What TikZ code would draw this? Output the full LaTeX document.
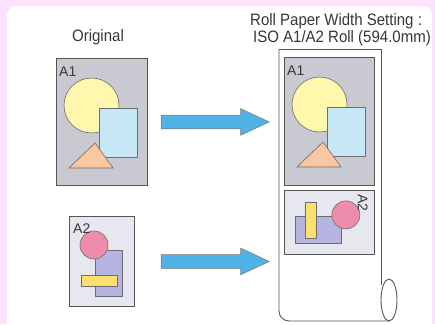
\documentclass[tikz,border=0pt]{standalone}
\usepackage{fontspec}
\setmainfont{Liberation Sans}
\usepackage{graphicx}
\usepackage{tikz}
\usetikzlibrary{shapes,arrows,positioning}

\definecolor{bgpink}{RGB}{253,226,253}
\definecolor{sheetgray}{RGB}{201,201,209}
\definecolor{sheetlight}{RGB}{231,231,239}
\definecolor{edgegray}{RGB}{85,85,85}
\definecolor{textgray}{RGB}{55,55,55}
\definecolor{paleyellow}{RGB}{255,248,172}
\definecolor{paleblue}{RGB}{198,232,246}
\definecolor{peach}{RGB}{250,200,160}
\definecolor{rosepink}{RGB}{238,140,172}
\definecolor{lilac}{RGB}{182,180,224}
\definecolor{mustard}{RGB}{250,224,110}
\definecolor{arrowblue}{RGB}{78,178,230}

\tikzstyle{caption} = [inner sep=0pt,text=textgray,font=\fontsize{15}{16}\selectfont]
\tikzstyle{tag} = [inner sep=0pt,anchor=base west,text=textgray,
  font=\fontsize{14}{14}\selectfont]
\tikzstyle{sheet} = [rectangle,draw=edgegray,line width=0.9pt,inner sep=0pt,
  anchor=north west]
\tikzstyle{art} = [draw=gray!85!black,line width=0.6pt]
\tikzstyle{rollline} = [draw=edgegray,line width=0.9pt]
\tikzstyle{bigarrow} = [single arrow,draw=gray,fill=arrowblue,line width=0.6pt,
  minimum height=108pt,inner xsep=0pt,inner ysep=6.5pt,
  single arrow head extend=6.5pt,single arrow tip angle=50]

\newcommand\stretchtext[1]{\scalebox{1}[1.1]{#1}}

% A1 sheet: circle, rectangle, triangle
\newcommand\artA[1]{
  \node[tag] (#1) at (3,18.5) {A1};
  \filldraw[art,fill=paleyellow] (35.5,47.5) circle (27.5);
  \filldraw[art,fill=paleblue] (43,50) rectangle (81,99);
  \filldraw[art,fill=peach] (39,85) -- (57,110) -- (13,110) -- cycle;
}
% A2 sheet: two bars and a disc
\newcommand\artB[1]{
  \filldraw[art,fill=lilac] (26,34) rectangle (53,80);
  \filldraw[art,fill=mustard] (12,59) rectangle (48,70);
  \filldraw[art,fill=rosepink] (25,29) circle (14);
  \node[tag] (#1) at (4,17) {A2};
}

\begin{document}
\begin{tikzpicture}[x=1pt,y=-1pt]

\useasboundingbox (0,0) rectangle (435,324);
\fill[bgpink] (0,0) rectangle (435,324);
\fill[white,rounded corners=9pt] (7,6) rectangle (432,340);

\node[caption,anchor=base] (orig) at (98,41) {\stretchtext{Original}};
\node[caption,anchor=base west] (titleA) at (250,25)
  {\stretchtext{Roll Paper Width Setting :}};
\node[caption,anchor=base west] (titleB) at (253,42)
  {\stretchtext{ISO A1/A2 Roll (594.0mm)}};

\node[sheet,fill=sheetgray,minimum width=91pt,minimum height=127pt] (a1) at (56,58) {};
\node[sheet,fill=sheetlight,minimum width=65pt,minimum height=90pt] (a2) at (69,216) {};

\begin{scope}[shift={(a1.north west)}]
  \artA{ta1}
\end{scope}
\begin{scope}[shift={(a2.north west)}]
  \artB{ta2}
\end{scope}

% the roll
\draw[rollline] (279,49) -- (381,49) -- (381,285);
\draw[rollline] (389,300) ellipse [x radius=8,y radius=21];
\draw[rollline,rounded corners=10pt] (389,321) -- (279,321) -- (279,49);

\node[sheet,fill=sheetgray,minimum width=90pt,minimum height=128pt] (ra1) at (284,57) {};
\node[sheet,fill=sheetlight,minimum width=90pt,minimum height=64pt,
  below=4pt of ra1.south west,anchor=north west] (ra2) {};

\begin{scope}[shift={(ra1.north west)}]
  \artA{tra1}
\end{scope}
\begin{scope}[shift={(ra2.north east)},rotate=-90,transform shape]
  \artB{tra2}
\end{scope}

\node[bigarrow,right=13pt of a1] (arr1) {};
\node[bigarrow,right=26pt of a2] (arr2) {};

\end{tikzpicture}
\end{document}
